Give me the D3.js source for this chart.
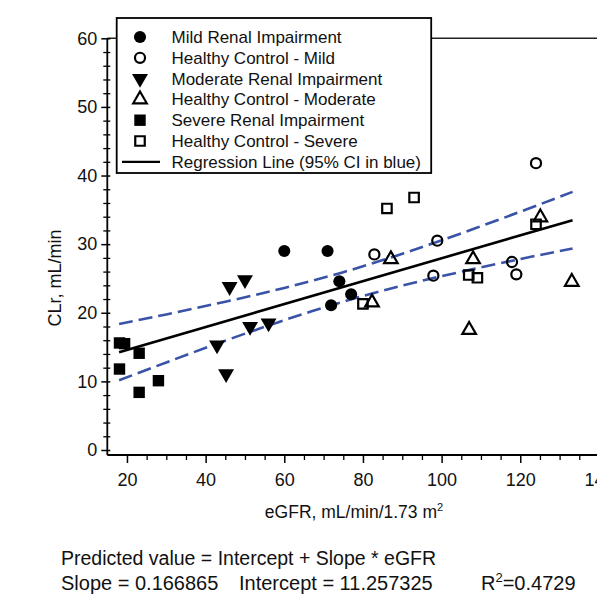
<!DOCTYPE html>
<html lang="en">
<head>
<meta charset="UTF-8">
<title>CLr vs eGFR</title>
<script src="https://d3js.org/d3.v7.min.js"></script>
<style>
  body { margin: 0; background: #fff; }
  svg text { font-family: "Liberation Sans", Arial, sans-serif; fill: #111; }
</style>
</head>
<body>
<div id="chart"></div>
<script>
// data: eGFR (x) and CLr (y)
var mildX = [60.0, 71.0, 74.0, 77.0, 71.9];
var mildY = [29.0, 29.0, 24.6, 22.7, 21.1];
var hcMildX = [124.0, 82.9, 98.9, 97.9, 117.9, 119.0];
var hcMildY = [41.8, 28.5, 30.5, 25.4, 27.4, 25.6];
var modX = [46.1, 50.0, 42.9, 45.2, 51.3, 56.0];
var modY = [23.8, 24.8, 15.3, 11.1, 18.0, 18.5];
var hcModX = [87.1, 82.3, 108.0, 107.0, 125.1, 133.1];
var hcModY = [27.8, 21.5, 27.8, 17.5, 33.9, 24.5];
var sevX = [18.1, 19.4, 18.1, 23.1, 23.1, 28.0];
var sevY = [15.6, 15.5, 11.8, 14.1, 8.4, 10.1];
var hcSevX = [86.1, 93.0, 80.0, 124.0, 106.9, 109.1];
var hcSevY = [35.2, 36.8, 21.3, 32.9, 25.5, 25.1];

// regression line and 95% CI band, read at a few eGFR values
var regX = [18, 133.3];
var regY = [14.26, 33.50];
var ciX = [18, 30, 45, 60, 75, 90, 105, 120, 133.3];
var ciUpper = [18.36, 19.76, 21.61, 23.62, 25.92, 28.60, 31.58, 34.73, 37.62];
var ciLower = [10.16, 12.76, 15.93, 18.92, 21.62, 23.96, 25.98, 27.83, 29.38];

var xTicks = [20, 40, 60, 80, 100, 120, 140];
var yTicks = [0, 10, 20, 30, 40, 50, 60];

var legendLabels = ["Mild Renal Impairment", "Healthy Control - Mild", "Moderate Renal Impairment",
  "Healthy Control - Moderate", "Severe Renal Impairment", "Healthy Control - Severe",
  "Regression Line (95% CI in blue)"];

var W = 597, H = 601;
var svg = d3.select("#chart").append("svg").attr("width", W).attr("height", H);

var x = d3.scaleLinear().domain([15, 145]).range([107.3, 618.6]);
var y = d3.scaleLinear().domain([0, 60]).range([450, 38.3]);
var axisY = 455;

var g = svg.append("g");

// top frame line at 60
g.append("line").attr("x1", x(15)).attr("x2", W).attr("y1", y(60)).attr("y2", y(60))
  .attr("stroke", "#222").attr("stroke-width", 1.5);

// x axis
var xAxis = g.append("g").attr("transform", "translate(0," + axisY + ")")
  .call(d3.axisBottom(x).tickValues(xTicks).tickSize(8).tickPadding(10));
xAxis.select(".domain").attr("stroke-width", 1.8).attr("d", "M" + x(15) + ",0H" + W);
xAxis.selectAll(".tick line").attr("y1", -1).attr("stroke-width", 1.5);
xAxis.selectAll(".tick text").style("font-size", "18px").attr("fill", "#111");
g.append("g").attr("transform", "translate(0," + axisY + ")")
  .call(d3.axisBottom(x).tickValues(d3.range(25, 146, 5).filter(function(d) { return d % 20 !== 0; }))
    .tickSize(5).tickFormat(""))
  .call(function(s) { s.select(".domain").remove(); s.selectAll("line").attr("y1", -1).attr("stroke-width", 1.3); });

// y axis
var yAxis = g.append("g").attr("transform", "translate(" + x(15) + ",0)")
  .call(d3.axisLeft(y).tickValues(yTicks).tickSize(6).tickPadding(4));
yAxis.select(".domain").attr("stroke-width", 1.8).attr("d", "M0," + y(60) + "V" + axisY);
yAxis.selectAll(".tick line").attr("x1", 3).attr("stroke-width", 1.5);
yAxis.selectAll(".tick text").style("font-size", "18px").attr("fill", "#111");
g.append("g").attr("transform", "translate(" + x(15) + ",0)")
  .call(d3.axisLeft(y).tickValues(d3.range(2, 60, 2).filter(function(d) { return d % 10 !== 0; }))
    .tickSize(4).tickFormat(""))
  .call(function(s) { s.select(".domain").remove(); s.selectAll("line").attr("x1", 3).attr("stroke-width", 1.3); });

// axis titles
var xt = svg.append("text").attr("x", 354).attr("y", 518).attr("text-anchor", "middle").style("font-size", "17.5px");
xt.append("tspan").text("eGFR, mL/min/1.73 m");
xt.append("tspan").attr("dy", -7).style("font-size", "11px").text("2");
svg.append("text").attr("transform", "translate(61,278) rotate(-90)").attr("text-anchor", "middle")
  .style("font-size", "18px").text("CLr, mL/min");

// CI band
var ciLine = d3.line().curve(d3.curveNatural).x(function(d) { return x(d[0]); }).y(function(d) { return y(d[1]); });
[ciUpper, ciLower].forEach(function(arr) {
  g.append("path").datum(ciX.map(function(v, i) { return [v, arr[i]]; }))
    .attr("d", ciLine).attr("fill", "none").attr("stroke", "#3a53a6")
    .attr("stroke-width", 2.6).attr("stroke-dasharray", "14,6");
});
// regression line
g.append("path").datum(regX.map(function(v, i) { return [v, regY[i]]; }))
  .attr("d", d3.line().x(function(d) { return x(d[0]); }).y(function(d) { return y(d[1]); }))
  .attr("stroke", "#000").attr("stroke-width", 2.6).attr("fill", "none");

// markers
var sym = {
  circle: d3.symbol().type(d3.symbolCircle).size(115),
  circleOpen: d3.symbol().type(d3.symbolCircle).size(80),
  triDown: d3.symbol().type(d3.symbolTriangle).size(110),
  triUp: d3.symbol().type(d3.symbolTriangle).size(80),
  square: d3.symbol().type(d3.symbolSquare).size(130),
  squareOpen: d3.symbol().type(d3.symbolSquare).size(90)
};
var groups = [
  { xs: mildX, ys: mildY, s: "circle", filled: true, rot: 0 },
  { xs: hcMildX, ys: hcMildY, s: "circleOpen", filled: false, rot: 0 },
  { xs: modX, ys: modY, s: "triDown", filled: true, rot: 180 },
  { xs: hcModX, ys: hcModY, s: "triUp", filled: false, rot: 0 },
  { xs: sevX, ys: sevY, s: "square", filled: true, rot: 0 },
  { xs: hcSevX, ys: hcSevY, s: "squareOpen", filled: false, rot: 0 }
];
function drawMarker(sel, grp) {
  sel.attr("d", sym[grp.s]())
    .attr("fill", grp.filled ? "#000" : "none")
    .attr("stroke", grp.filled ? "none" : "#000")
    .attr("stroke-width", 2.2);
}
groups.forEach(function(grp) {
  g.selectAll(null).data(grp.xs.map(function(v, i) { return [v, grp.ys[i]]; }))
    .enter().append("path")
    .attr("transform", function(d) { return "translate(" + x(d[0]) + "," + y(d[1]) + ") rotate(" + grp.rot + ")"; })
    .call(drawMarker, grp);
});

// legend
var lg = svg.append("g");
lg.append("rect").attr("x", 116.7).attr("y", 18).attr("width", 314.5).attr("height", 155)
  .attr("fill", "#fff").attr("stroke", "#000").attr("stroke-width", 1.8);
legendLabels.forEach(function(lab, i) {
  var cy = 37 + i * 20.8;
  if (i < 6) {
    lg.append("path").attr("transform", "translate(140," + cy + ") rotate(" + groups[i].rot + ")")
      .call(drawMarker, groups[i]);
  } else {
    lg.append("line").attr("x1", 122).attr("x2", 160).attr("y1", cy).attr("y2", cy)
      .attr("stroke", "#000").attr("stroke-width", 2.2);
  }
  lg.append("text").attr("x", 171.5).attr("y", cy + 6).style("font-size", "17px").text(lab);
});

// equation text
svg.append("text").attr("x", 61).attr("y", 565).style("font-size", "19.5px").attr("fill", "#222")
  .text("Predicted value = Intercept + Slope * eGFR");
var l2 = 590;
svg.append("text").attr("x", 61).attr("y", l2).style("font-size", "20px").attr("fill", "#222").text("Slope = 0.166865");
svg.append("text").attr("x", 239).attr("y", l2).style("font-size", "20px").attr("fill", "#222").text("Intercept = 11.257325");
var r2 = svg.append("text").attr("x", 481).attr("y", l2).style("font-size", "20px").attr("fill", "#222");
r2.append("tspan").text("R");
r2.append("tspan").attr("dy", -8).style("font-size", "13px").text("2");
r2.append("tspan").attr("dy", 8).text("=0.4729");
</script>
</body>
</html>
